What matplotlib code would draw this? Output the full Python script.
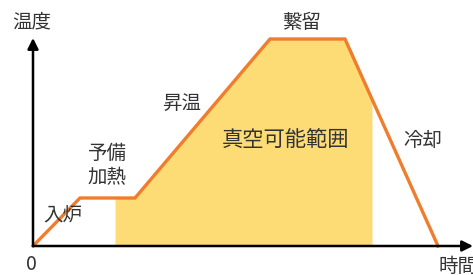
import numpy as np
import matplotlib
matplotlib.use('Agg')
from matplotlib import pyplot as plt

plt.rcParams['font.family'] = ['Noto Sans CJK JP', 'DejaVu Sans']

# temperature profile (schematic units)
time = [0, 47, 102, 237, 312, 405]
temp = [0, 48, 48, 207, 207, 0]

# vacuum possible range (time)
vac_start = 82
vac_end = 339

labels = ['温度', '繋留', '昇温', '真空可能範囲', '予備\n加熱', '入炉', '冷却', '0', '時間']

fig = plt.figure(figsize=(4.73, 2.75), dpi=100)
ax = fig.add_axes([0, 0, 1, 1])
ax.set_xlim(-33, 440)
ax.set_ylim(-29, 246)
ax.axis('off')

# shaded region under the curve
xs = [vac_start] + [t for t in time if vac_start < t < vac_end] + [vac_end]
ys = np.interp(xs, time, temp)
ax.fill_between(xs, 0, ys, color='#FDDC76', lw=0, zorder=1)

ax.plot(time, temp, color='#EF7D2D', lw=2.4, solid_joinstyle='miter', zorder=3)

# axes arrows
ax.annotate('', xy=(440, 0), xytext=(0, 0),
            arrowprops=dict(arrowstyle='-|>', lw=1.8, color='black', mutation_scale=16, shrinkA=0, shrinkB=0), zorder=4)
ax.annotate('', xy=(0, 208), xytext=(0, 0),
            arrowprops=dict(arrowstyle='-|>', lw=1.8, color='black', mutation_scale=16, shrinkA=0, shrinkB=0), zorder=4)

pos = [(-1, 224), (269, 224), (149, 143), (252, 106), (74, 80), (30, 31), (390, 106), (-2, -19), (425, -20)]
sizes = [14, 14, 14, 15.3, 14, 14, 14, 14, 14]
for (x, y), s, fs in zip(pos, labels, sizes):
    ax.text(x, y, s, fontsize=fs, color='#333333', ha='center', va='center', linespacing=1.2, zorder=5)

fig.savefig('out.png', dpi=100)
